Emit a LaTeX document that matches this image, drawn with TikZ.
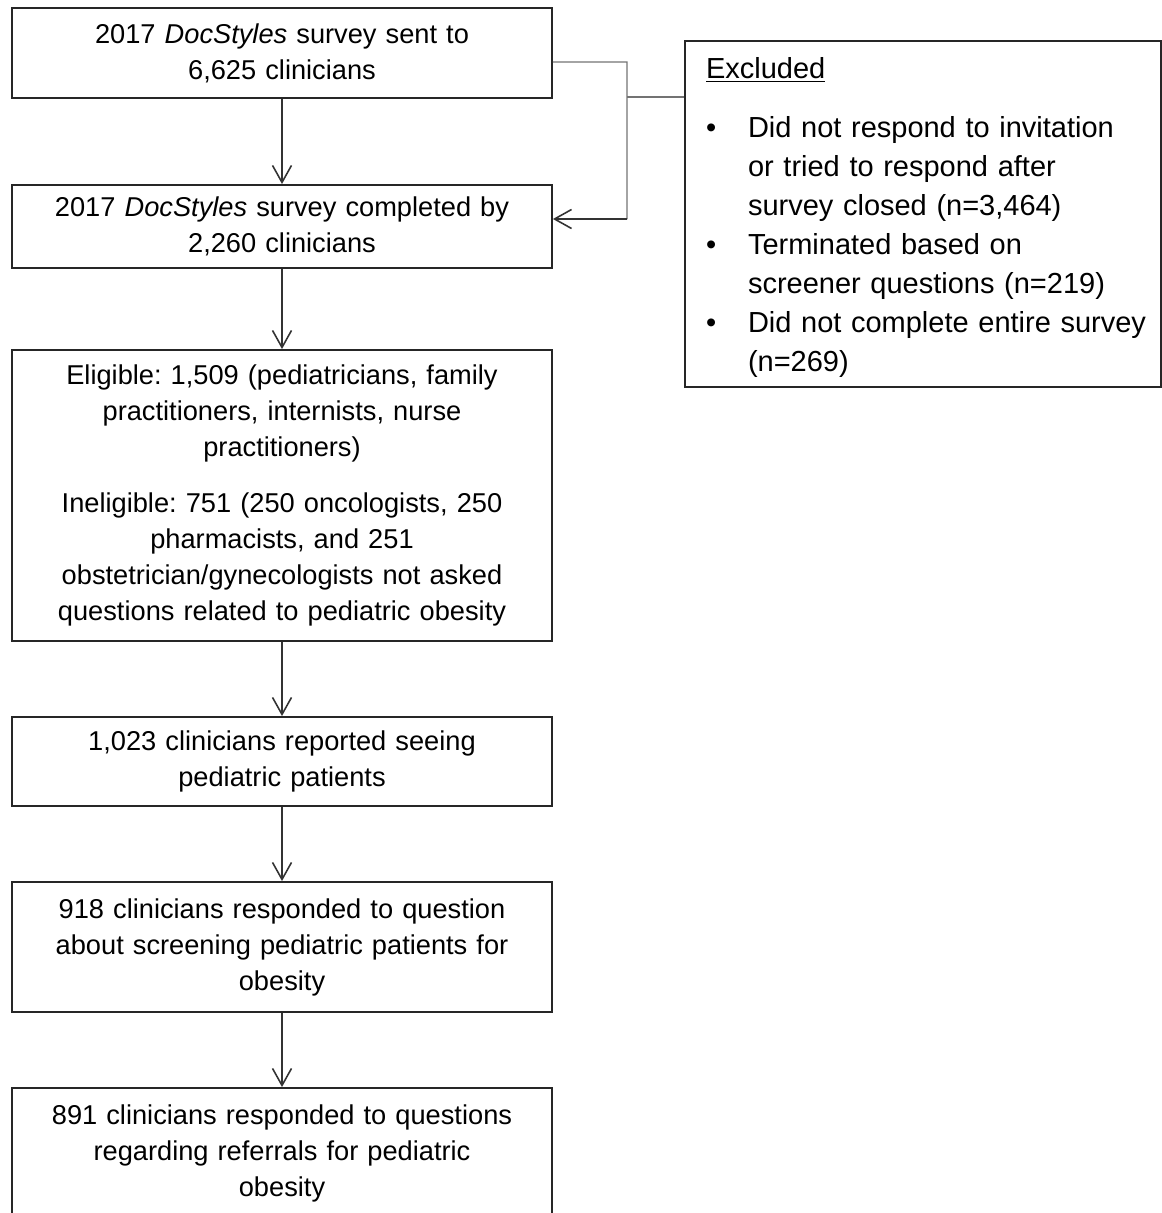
\documentclass[tikz,border=0pt]{standalone}
\usepackage{fontspec}
\setmainfont{Liberation Sans}
\usetikzlibrary{arrows.meta, positioning}
\frenchspacing

\begin{document}
\begin{tikzpicture}[x=0.02cm, y=-0.02cm,
        every node/.style={font=\fontsize{15.5}{20.5}\selectfont, align=center},
        box/.style={rectangle, draw=black!85, line width=1.1pt, minimum width=10.8cm, text width=10.4cm, inner xsep=0.2cm, inner ysep=0pt},
        excl/.style={rectangle, draw=black!85, line width=1.1pt, minimum width=9.52cm, text width=8.68cm, inner xsep=0.42cm, inner ysep=0pt, align=left, font=\fontsize{16.5}{22.2}\selectfont},
        flow/.style={-{Straight Barb[length=3.4mm,width=3.8mm]}, line width=0.9pt, black!80},
        link/.style={line width=0.7pt, black!55}
    ]
        \useasboundingbox (0,0) rectangle (1162,1213);

        \node[box, minimum height=1.8cm]  (sent)     at (282,53)    {2017 \textit{DocStyles} survey sent to\\ 6,625 clinicians};
        \node[box, minimum height=1.66cm] (done)     at (282,226.5) {2017 \textit{DocStyles} survey completed by\\ 2,260 clinicians};
        \node[box, minimum height=5.82cm] (elig)     at (282,495.5) {Eligible: 1,509 (pediatricians, family\\ practitioners, internists, nurse\\ practitioners)\\[0.4cm]
            Ineligible: 751 (250 oncologists, 250\\ pharmacists, and 251\\ obstetrician/gynecologists not asked\\ questions related to pediatric obesity};
        \node[box, minimum height=1.78cm] (peds)     at (282,761.5) {1,023 clinicians reported seeing\\ pediatric patients};
        \node[box, minimum height=2.6cm]  (screen)   at (282,947)   {918 clinicians responded to question\\ about screening pediatric patients for\\ obesity};
        \node[box, minimum height=2.6cm]  (referral) at (282,1153)  {891 clinicians responded to questions\\ regarding referrals for pediatric\\ obesity};

        \node[excl, minimum height=6.92cm] (excluded) at (923,214) {\underline{Excluded}\\[0.52cm]
            \begin{tabular}{@{}p{0.84cm}@{}l@{}}
                \textbullet & Did not respond to invitation\\
                            & or tried to respond after\\
                            & survey closed (n=3,464)\\
                \textbullet & Terminated based on\\
                            & screener questions (n=219)\\
                \textbullet & Did not complete entire survey\\
                            & (n=269)\\[-0.24cm]
            \end{tabular}};

        % side branch to the excluded box
        \coordinate (jtop) at (627,62);
        \coordinate (jmid) at (627,97);
        \coordinate (jbot) at (627,219);
        \draw[link] ([yshift=-0.18cm]sent.east) -- (jtop) -- (jbot);
        \draw[link] (jmid) -- (excluded.west |- jmid);
        \draw[flow] (jbot) -- ([yshift=0.15cm]done.east);

        \draw[flow] (sent)   -- (done);
        \draw[flow] (done)   -- (elig);
        \draw[flow] (elig)   -- (peds);
        \draw[flow] (peds)   -- (screen);
        \draw[flow] (screen) -- (referral);
    \end{tikzpicture}
\end{document}
